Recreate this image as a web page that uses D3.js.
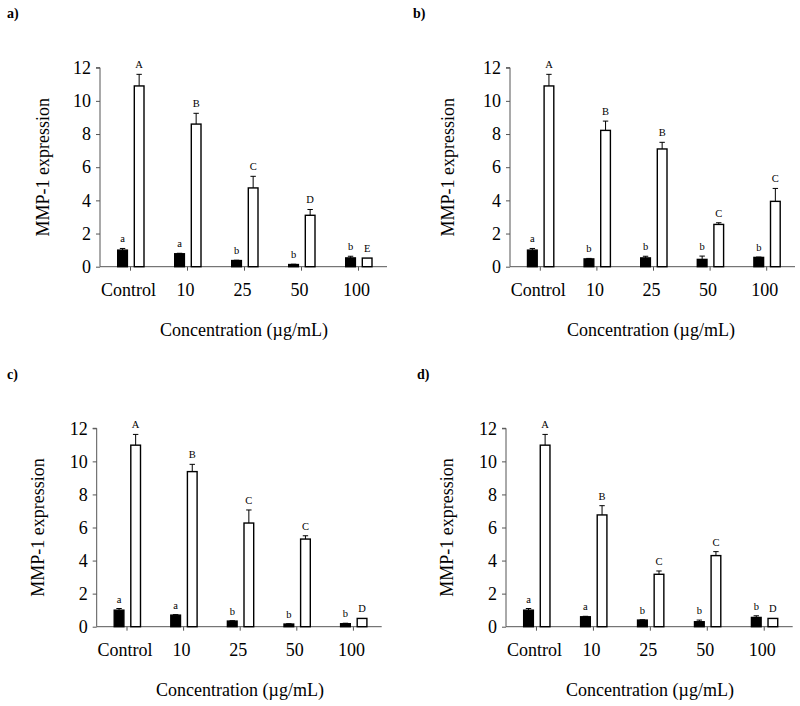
<!DOCTYPE html>
<html>
<head>
<meta charset="utf-8">
<script src="https://cdn.jsdelivr.net/npm/d3@7"></script>
<style>
  html, body { margin: 0; padding: 0; background: #fff; }
  svg { display: block; }
  text { font-family: "Liberation Serif", "Times New Roman", Times, serif; fill: #000; }
</style>
</head>
<body>
<svg id="chart" width="800" height="706"></svg>
<script>
// ---- data ----
const categories = ["Control", "10", "25", "50", "100"];
const yTicks = [0, 2, 4, 6, 8, 10, 12];
const panelNames = ["a)", "b)", "c)", "d)"];
const yTitle = "MMP-1 expression";
const xTitle = "Concentration (\u00b5g/mL)";

const blackA = [1.0, 0.78, 0.37, 0.13, 0.53];
const blackAErr = [0.1, 0.03, 0.02, 0.02, 0.1];
const whiteA = [10.9, 8.6, 4.75, 3.1, 0.52];
const whiteAErr = [0.7, 0.65, 0.7, 0.35, 0.0];
const lowerA = ["a", "a", "b", "b", "b"];
const upperA = ["A", "B", "C", "D", "E"];

const blackB = [1.0, 0.47, 0.53, 0.44, 0.56];
const blackBErr = [0.1, 0.03, 0.1, 0.2, 0.02];
const whiteB = [10.9, 8.22, 7.1, 2.55, 3.94];
const whiteBErr = [0.7, 0.56, 0.4, 0.1, 0.78];
const lowerB = ["a", "b", "b", "b", "b"];
const upperB = ["A", "B", "B", "C", "C"];

const blackC = [1.0, 0.7, 0.34, 0.16, 0.18];
const blackCErr = [0.1, 0.03, 0.02, 0.02, 0.03];
const whiteC = [10.98, 9.38, 6.27, 5.3, 0.5];
const whiteCErr = [0.65, 0.44, 0.79, 0.2, 0.0];
const lowerC = ["a", "a", "b", "b", "b"];
const upperC = ["A", "B", "C", "C", "D"];

const blackD = [1.0, 0.6, 0.4, 0.3, 0.56];
const blackDErr = [0.1, 0.03, 0.02, 0.1, 0.1];
const whiteD = [10.98, 6.76, 3.17, 4.3, 0.5];
const whiteDErr = [0.65, 0.56, 0.2, 0.24, 0.0];
const lowerD = ["a", "a", "b", "b", "b"];
const upperD = ["A", "B", "C", "C", "D"];

// ---- layout per panel ----
const panels = [
  { name: panelNames[0], black: blackA, blackErr: blackAErr, white: whiteA, whiteErr: whiteAErr, lower: lowerA, upper: upperA,
    x0: 100, x1: 387, yZero: 266.7, yTop: 67.7, lx: 7, ly: 18, ytx: 43, xtx: 244, xty: 330, catY: 290 },
  { name: panelNames[1], black: blackB, blackErr: blackBErr, white: whiteB, whiteErr: whiteBErr, lower: lowerB, upper: upperB,
    x0: 510, x1: 795, yZero: 266.7, yTop: 67.7, lx: 413, ly: 18, ytx: 448, xtx: 651, xty: 330, catY: 290 },
  { name: panelNames[2], black: blackC, blackErr: blackCErr, white: whiteC, whiteErr: whiteCErr, lower: lowerC, upper: upperC,
    x0: 96.7, x1: 381.7, yZero: 626.7, yTop: 428.3, lx: 7, ly: 379, ytx: 38, xtx: 240, xty: 690, catY: 650 },
  { name: panelNames[3], black: blackD, blackErr: blackDErr, white: whiteD, whiteErr: whiteDErr, lower: lowerD, upper: upperD,
    x0: 506, x1: 792.7, yZero: 626.7, yTop: 428.3, lx: 417, ly: 379, ytx: 447, xtx: 650, xty: 690, catY: 650 }
];

const svg = d3.select("#chart");
const axisColor = "#555";
const barW = 10.7;

panels.forEach(p => {
  const g = svg.append("g");
  const x = d3.scaleBand().domain(categories).range([p.x0 + 2, p.x1]).padding(0);
  const y = d3.scaleLinear().domain([0, 12]).range([p.yZero, p.yTop]);

  // panel label
  g.append("text").attr("x", p.lx).attr("y", p.ly)
    .attr("font-size", 14).attr("font-weight", "bold").text(p.name);

  // y axis
  const yAxis = d3.axisLeft(y).tickValues(yTicks).tickSize(4).tickPadding(5).tickFormat(d3.format("d"));
  const ya = g.append("g").attr("transform", `translate(${p.x0},0)`).call(yAxis);
  ya.select(".domain").attr("stroke", axisColor).attr("d", `M-4,${p.yTop}H0V${p.yZero}`);
  ya.selectAll(".tick line").attr("stroke", axisColor);
  ya.selectAll(".tick text").attr("font-size", 18).attr("font-family", "Liberation Serif").attr("fill", "#000");

  // x axis
  const xAxis = d3.axisBottom(x).tickSize(4).tickSizeOuter(0).tickFormat(() => "");
  const xa = g.append("g").attr("transform", `translate(0,${p.yZero})`).call(xAxis);
  xa.select(".domain").attr("stroke", axisColor).attr("d", `M${p.x0},0H${p.x1}`);
  xa.selectAll(".tick line").attr("stroke", axisColor);

  // category labels
  g.selectAll(".cat").data(categories).enter().append("text")
    .attr("x", d => x(d) + x.bandwidth() / 2 - 2)
    .attr("y", p.catY)
    .attr("text-anchor", "middle").attr("dominant-baseline", "central")
    .attr("font-size", 18).text(d => d);

  // titles
  g.append("text")
    .attr("transform", `translate(${p.ytx},${(p.yZero + p.yTop) / 2}) rotate(-90)`)
    .attr("text-anchor", "middle").attr("dominant-baseline", "central")
    .attr("font-size", 18).text(yTitle);
  g.append("text").attr("x", p.xtx).attr("y", p.xty)
    .attr("text-anchor", "middle").attr("dominant-baseline", "central")
    .attr("font-size", 18).text(xTitle);

  const cx = d => x(d) + x.bandwidth() / 2;
  const series = [
    { vals: p.black, errs: p.blackErr, labels: p.lower, off: -13.3, fill: "#000" },
    { vals: p.white, errs: p.whiteErr, labels: p.upper, off: 3.3, fill: "#fff" }
  ];

  series.forEach(s => {
    const data = categories.map((c, i) => ({ c, v: s.vals[i], e: s.errs[i], l: s.labels[i] }));
    // error bars
    const eg = g.append("g");
    data.forEach(d => {
      if (d.e <= 0) return;
      const bx = cx(d.c) + s.off + barW / 2;
      eg.append("line").attr("x1", bx).attr("x2", bx)
        .attr("y1", y(d.v)).attr("y2", y(d.v + d.e)).attr("stroke", "#000").attr("stroke-width", 1);
      eg.append("line").attr("x1", bx - 2.7).attr("x2", bx + 2.7)
        .attr("y1", y(d.v + d.e)).attr("y2", y(d.v + d.e)).attr("stroke", "#000").attr("stroke-width", 1);
    });
    // bars
    g.selectAll(null).data(data).enter().append("rect")
      .attr("x", d => cx(d.c) + s.off + 0.5)
      .attr("y", d => y(d.v))
      .attr("width", barW - 1)
      .attr("height", d => y(0) - y(d.v))
      .attr("fill", s.fill).attr("stroke", "#000").attr("stroke-width", 1.4);
    // letters
    g.selectAll(null).data(data).enter().append("text")
      .attr("x", d => cx(d.c) + s.off + barW / 2)
      .attr("y", d => y(d.v + d.e) - 6)
      .attr("text-anchor", "middle").attr("font-size", 10.5).text(d => d.l);
  });
});
</script>
</body>
</html>
